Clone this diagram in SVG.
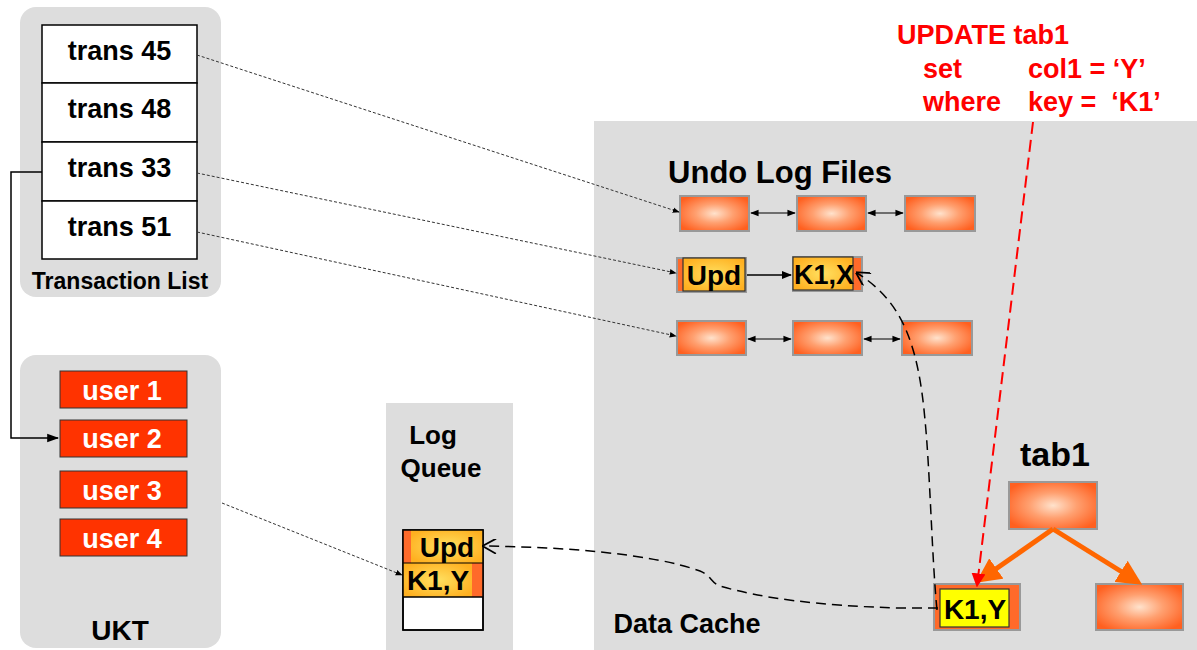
<svg xmlns="http://www.w3.org/2000/svg" width="1197" height="650" viewBox="0 0 1197 650">
<style>
text{font-family:"Liberation Sans",Arial,sans-serif;font-weight:bold;fill:#000}
.panel{fill:#dddddd}
.cell{fill:#fff;stroke:#000;stroke-width:1.5}
.user{fill:#ff3300;stroke:#333;stroke-width:1}
.ut{fill:#fff;font-size:27px;text-anchor:middle}
.tt{font-size:27px;text-anchor:middle}
.blk{fill:url(#og);stroke:#999;stroke-width:2}
.yb{fill:url(#yg);stroke:#333;stroke-width:1.2}
.dot{fill:none;stroke:#333;stroke-width:1;stroke-dasharray:3,2}
.dash{fill:none;stroke:#000;stroke-width:1.5;stroke-dasharray:10,6}
.red{fill:#ff0000;font-size:27px}
</style>
<defs>
<radialGradient id="og" cx="0.5" cy="0.5" r="0.6">
<stop offset="0" stop-color="#ffe2cc"/><stop offset="0.45" stop-color="#ffa070"/><stop offset="1" stop-color="#ff6020"/>
</radialGradient>
<radialGradient id="yg" cx="0.5" cy="0.5" r="0.6">
<stop offset="0" stop-color="#ffe060"/><stop offset="1" stop-color="#ffb020"/>
</radialGradient>
<marker id="af" viewBox="0 0 10 10" refX="9" refY="5" markerWidth="7" markerHeight="7" orient="auto-start-reverse"><path d="M0,1 L10,5 L0,9 z" fill="#000"/></marker>
<marker id="as" viewBox="0 0 10 10" refX="9" refY="5" markerWidth="8" markerHeight="8" orient="auto-start-reverse"><path d="M0,1.5 L10,5 L0,8.5 z" fill="#000"/></marker>
<marker id="ao" viewBox="0 0 10 10" refX="9" refY="5" markerWidth="10" markerHeight="10" orient="auto"><path d="M1,0 L10,5 L1,10" fill="none" stroke="#000" stroke-width="1.2"/></marker>
<marker id="ar" viewBox="0 0 10 10" refX="9" refY="5" markerWidth="7" markerHeight="7" orient="auto"><path d="M0,0 L10,5 L0,10 z" fill="#ff0000"/></marker>
<marker id="aor" viewBox="0 0 10 10" refX="8" refY="5" markerWidth="5" markerHeight="5" orient="auto"><path d="M0,0 L10,5 L0,10 z" fill="#ff6600"/></marker>
</defs>

<g id="txlist">
<rect class="panel" x="20" y="7" width="201" height="290" rx="16"/>
<rect class="cell" x="42" y="25" width="155" height="58"/>
<rect class="cell" x="42" y="83" width="155" height="59"/>
<rect class="cell" x="42" y="142" width="155" height="59"/>
<rect class="cell" x="42" y="201" width="155" height="58"/>
<text class="tt" x="119.5" y="60">trans 45</text>
<text class="tt" x="119.5" y="118">trans 48</text>
<text class="tt" x="119.5" y="177">trans 33</text>
<text class="tt" x="119.5" y="236">trans 51</text>
<text x="120" y="289" font-size="23" text-anchor="middle">Transaction List</text>
</g>

<g id="ukt">
<rect class="panel" x="20" y="355" width="201" height="293" rx="16"/>
<rect class="user" x="60" y="371" width="127" height="37"/>
<rect class="user" x="60" y="420" width="127" height="37"/>
<rect class="user" x="60" y="471" width="127" height="37"/>
<rect class="user" x="60" y="519" width="127" height="37"/>
<text class="ut" x="122" y="400">user 1</text>
<text class="ut" x="122" y="448">user 2</text>
<text class="ut" x="122" y="500">user 3</text>
<text class="ut" x="122" y="548">user 4</text>
<text x="120" y="640" font-size="28" text-anchor="middle">UKT</text>
</g>

<g id="logqueue">
<rect class="panel" x="386" y="403" width="127" height="247"/>
<text x="433" y="444" font-size="26" text-anchor="middle">Log</text>
<text x="441" y="477" font-size="26" text-anchor="middle">Queue</text>
<rect x="403" y="530" width="80" height="100" fill="#fff" stroke="#000" stroke-width="1.5"/>
<rect x="403" y="530" width="80" height="33" fill="#ff6a2a"/>
<rect x="411" y="530" width="72" height="33" fill="url(#yg)"/>
<rect x="403" y="563" width="80" height="34" fill="#ff6a2a"/>
<rect x="403" y="563" width="69" height="34" fill="url(#yg)"/>
<rect x="403" y="530" width="80" height="100" fill="none" stroke="#000" stroke-width="1.5"/>
<line x1="403" y1="563" x2="483" y2="563" stroke="#000" stroke-width="1.2"/>
<line x1="403" y1="597" x2="483" y2="597" stroke="#000" stroke-width="1.5"/>
<text x="447" y="557" font-size="28" text-anchor="middle">Upd</text>
<text x="438" y="590" font-size="28" text-anchor="middle">K1,Y</text>
</g>

<g id="datacache">
<rect class="panel" x="594" y="121" width="603" height="529"/>
<text x="780" y="183" font-size="31" text-anchor="middle">Undo Log Files</text>
<text x="687" y="633" font-size="27" text-anchor="middle">Data Cache</text>
<text x="1055" y="466" font-size="34" text-anchor="middle">tab1</text>
</g>

<g id="undo1">
<rect class="blk" x="680" y="196" width="69" height="35"/>
<rect class="blk" x="797" y="196" width="69" height="35"/>
<rect class="blk" x="905" y="196" width="70" height="35"/>
</g>
<g id="undo2">
<rect x="677" y="258" width="69" height="34" fill="#ff6a2a" stroke="#999" stroke-width="2"/>
<rect class="yb" x="683" y="258" width="62" height="33"/>
<text x="714" y="285" font-size="28" text-anchor="middle">Upd</text>
<rect x="793" y="257" width="69" height="34" fill="#ff6a2a" stroke="#999" stroke-width="2"/>
<rect class="yb" x="793" y="257" width="60" height="33"/>
<text x="824" y="284" font-size="27" text-anchor="middle">K1,X</text>
</g>
<g id="undo3">
<rect class="blk" x="677" y="321" width="69" height="34"/>
<rect class="blk" x="793" y="321" width="69" height="34"/>
<rect class="blk" x="902" y="321" width="70" height="34"/>
</g>

<g id="tree">
<rect class="blk" x="1009" y="482" width="88" height="47"/>
<rect class="blk" x="1096" y="584" width="87" height="46"/>
<rect x="934" y="584" width="86" height="46" fill="#ff6a2a" stroke="#999" stroke-width="2"/>
<rect x="940" y="589" width="69" height="38" fill="#ffff00" stroke="#333" stroke-width="1.2"/>
<text x="975" y="619" font-size="28" text-anchor="middle">K1,Y</text>
</g>

<g id="sql">
<text class="red" x="897" y="44">UPDATE tab1</text>
<text class="red" x="923" y="78">set</text>
<text class="red" x="1028" y="78">col1 = ‘Y’</text>
<text class="red" x="923" y="111">where</text>
<text class="red" x="1028" y="111" xml:space="preserve">key =  ‘K1’</text>
</g>

<g id="connectors">
<polyline points="42,172 11,172 11,438 58,438" fill="none" stroke="#000" stroke-width="1.5" marker-end="url(#as)"/>
<line class="dot" x1="197" y1="55" x2="679" y2="212" marker-end="url(#af)"/>
<line class="dot" x1="197" y1="173" x2="676" y2="273" marker-end="url(#af)"/>
<line class="dot" x1="197" y1="232" x2="676" y2="336" marker-end="url(#af)"/>
<line class="dot" x1="222" y1="503" x2="402" y2="575" marker-end="url(#af)"/>
<line x1="751" y1="213" x2="795" y2="213" stroke="#000" stroke-width="1.2" marker-start="url(#af)" marker-end="url(#af)"/>
<line x1="868" y1="213" x2="903" y2="213" stroke="#000" stroke-width="1.2" marker-start="url(#af)" marker-end="url(#af)"/>
<line x1="748" y1="339" x2="791" y2="339" stroke="#000" stroke-width="1.2" marker-start="url(#af)" marker-end="url(#af)"/>
<line x1="864" y1="339" x2="900" y2="339" stroke="#000" stroke-width="1.2" marker-start="url(#af)" marker-end="url(#af)"/>
<line x1="747" y1="275" x2="791" y2="275" stroke="#000" stroke-width="1.5" marker-end="url(#af)"/>
<path class="dash" d="M938,608 L900,608 C820,606 760,598 720,586 C710,582 712,576 700,571 C650,553 560,547 484,546" marker-end="url(#ao)"/>
<path class="dash" d="M937,610 C932,560 930,470 925,420 C918,340 900,300 857,273" marker-end="url(#ao)"/>
<line x1="1053" y1="529" x2="980" y2="580" stroke="#ff6600" stroke-width="5" marker-end="url(#aor)"/>
<line x1="1053" y1="529" x2="1138" y2="582" stroke="#ff6600" stroke-width="5" marker-end="url(#aor)"/>
<line x1="1033" y1="122" x2="977" y2="586" stroke="#ff0000" stroke-width="2" stroke-dasharray="12,6" marker-end="url(#ar)"/>
</g>
</svg>
